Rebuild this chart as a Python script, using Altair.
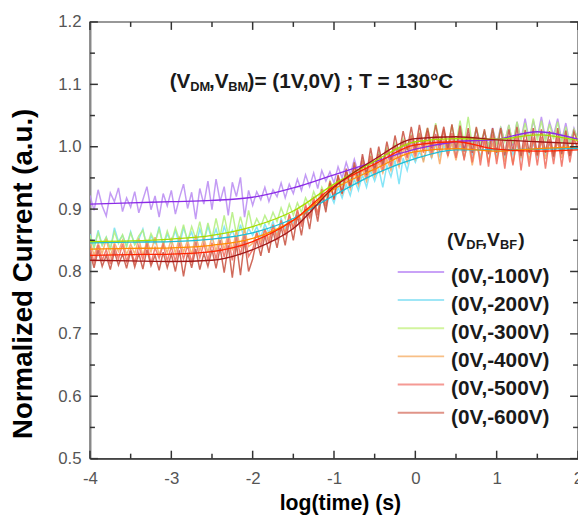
import altair as alt
import pandas as pd

series = ["(0V,-100V)", "(0V,-200V)", "(0V,-300V)", "(0V,-400V)", "(0V,-500V)", "(0V,-600V)"]

times = [-4.00, -3.95, -3.90, -3.85, -3.80, -3.75, -3.70, -3.65, -3.60, -3.55,
         -3.50, -3.45, -3.40, -3.35, -3.30, -3.25, -3.20, -3.15, -3.10, -3.05,
         -3.00, -2.95, -2.90, -2.85, -2.80, -2.75, -2.70, -2.65, -2.60, -2.55,
         -2.50, -2.45, -2.40, -2.35, -2.30, -2.25, -2.20, -2.15, -2.10, -2.05,
         -2.00, -1.95, -1.90, -1.85, -1.80, -1.75, -1.70, -1.65, -1.60, -1.55,
         -1.50, -1.45, -1.40, -1.35, -1.30, -1.25, -1.20, -1.15, -1.10, -1.05,
         -1.00, -0.95, -0.90, -0.85, -0.80, -0.75, -0.70, -0.65, -0.60, -0.55,
         -0.50, -0.45, -0.40, -0.35, -0.30, -0.25, -0.20, -0.15, -0.10, -0.05,
         0.00, 0.05, 0.10, 0.15, 0.20, 0.25, 0.30, 0.35, 0.40, 0.45,
         0.50, 0.55, 0.60, 0.65, 0.70, 0.75, 0.80, 0.85, 0.90, 0.95,
         1.00, 1.05, 1.10, 1.15, 1.20, 1.25, 1.30, 1.35, 1.40, 1.45,
         1.50, 1.55, 1.60, 1.65, 1.70, 1.75, 1.80, 1.85, 1.90, 1.95,
         2.00]

raw_100 = [0.922, 0.898, 0.931, 0.905, 0.889, 0.926, 0.912, 0.934, 0.896, 0.918,
           0.903, 0.928, 0.894, 0.915, 0.936, 0.899, 0.921, 0.887, 0.925, 0.905,
           0.930, 0.892, 0.918, 0.940, 0.901, 0.927, 0.884, 0.933, 0.908, 0.945,
           0.899, 0.948, 0.912, 0.936, 0.890, 0.943, 0.920, 0.951, 0.887, 0.930,
           0.906, 0.928, 0.915, 0.935, 0.912, 0.931, 0.920, 0.942, 0.918, 0.940,
           0.925, 0.948, 0.930, 0.955, 0.936, 0.958, 0.933, 0.962, 0.945, 0.960,
           0.942, 0.968, 0.950, 0.975, 0.955, 0.980, 0.958, 0.983, 0.962, 0.978,
           0.965, 0.990, 0.972, 0.995, 0.970, 1.002, 0.978, 1.005, 0.985, 1.008,
           0.990, 1.015, 0.995, 1.020, 0.992, 1.018, 1.000, 1.025, 0.998, 1.016,
           1.000, 1.022, 0.995, 1.020, 1.003, 1.028, 0.998, 1.024, 1.002, 1.030,
           1.004, 1.032, 1.008, 1.035, 1.002, 1.040, 1.012, 1.045, 1.010, 1.042,
           1.015, 1.048, 1.012, 1.040, 1.018, 1.045, 1.010, 1.038, 1.005, 1.030,
           1.010]
raw_200 = [0.860, 0.838, 0.866, 0.842, 0.855, 0.835, 0.870, 0.848, 0.858, 0.840,
           0.864, 0.843, 0.852, 0.868, 0.839, 0.857, 0.845, 0.872, 0.841, 0.860,
           0.846, 0.866, 0.842, 0.870, 0.851, 0.863, 0.840, 0.868, 0.848, 0.873,
           0.850, 0.868, 0.845, 0.872, 0.853, 0.866, 0.848, 0.875, 0.851, 0.869,
           0.858, 0.872, 0.855, 0.876, 0.862, 0.880, 0.858, 0.885, 0.868, 0.888,
           0.878, 0.895, 0.880, 0.902, 0.888, 0.910, 0.893, 0.918, 0.900, 0.925,
           0.910, 0.935, 0.918, 0.940, 0.922, 0.948, 0.930, 0.955, 0.935, 0.962,
           0.945, 0.965, 0.935, 0.970, 0.952, 0.978, 0.940, 0.982, 0.962, 0.990,
           0.975, 0.992, 0.978, 1.000, 0.982, 1.004, 0.985, 1.002, 0.988, 1.006,
           0.985, 1.004, 0.982, 1.006, 0.988, 1.008, 0.984, 1.005, 0.990, 1.007,
           0.986, 1.006, 0.983, 1.008, 0.987, 1.004, 0.982, 1.007, 0.989, 1.006,
           0.985, 1.008, 0.988, 1.006, 0.984, 1.009, 0.990, 1.006, 0.986, 1.008,
           0.997]
raw_300 = [0.858, 0.838, 0.862, 0.842, 0.855, 0.836, 0.864, 0.845, 0.859, 0.840,
           0.862, 0.843, 0.857, 0.866, 0.840, 0.861, 0.847, 0.868, 0.842, 0.865,
           0.846, 0.870, 0.850, 0.875, 0.848, 0.872, 0.853, 0.880, 0.849, 0.878,
           0.853, 0.885, 0.856, 0.890, 0.858, 0.895, 0.860, 0.888, 0.862, 0.898,
           0.868, 0.885, 0.872, 0.890, 0.876, 0.895, 0.880, 0.902, 0.885, 0.908,
           0.890, 0.910, 0.895, 0.918, 0.905, 0.928, 0.912, 0.935, 0.920, 0.945,
           0.932, 0.952, 0.938, 0.960, 0.945, 0.968, 0.952, 0.978, 0.960, 0.985,
           0.968, 0.990, 0.975, 0.998, 0.980, 1.005, 0.988, 1.012, 0.995, 1.018,
           1.000, 1.022, 1.004, 1.030, 1.002, 1.038, 1.006, 1.025, 1.000, 1.035,
           1.003, 1.042, 1.005, 1.048, 1.002, 1.030, 1.006, 1.025, 1.000, 1.028,
           1.002, 1.030, 1.008, 1.035, 1.005, 1.040, 1.010, 1.038, 1.008, 1.045,
           1.010, 1.042, 1.008, 1.036, 1.012, 1.040, 1.005, 1.032, 1.004, 1.028,
           1.012]
raw_400 = [0.848, 0.826, 0.845, 0.829, 0.852, 0.824, 0.846, 0.832, 0.850, 0.827,
           0.844, 0.828, 0.853, 0.825, 0.849, 0.831, 0.855, 0.826, 0.847, 0.830,
           0.852, 0.829, 0.856, 0.831, 0.850, 0.827, 0.858, 0.833, 0.854, 0.830,
           0.857, 0.832, 0.860, 0.835, 0.862, 0.834, 0.865, 0.838, 0.868, 0.840,
           0.845, 0.862, 0.848, 0.868, 0.852, 0.872, 0.858, 0.880, 0.862, 0.888,
           0.870, 0.895, 0.878, 0.902, 0.888, 0.912, 0.895, 0.925, 0.905, 0.935,
           0.920, 0.945, 0.925, 0.950, 0.932, 0.958, 0.938, 0.965, 0.945, 0.970,
           0.952, 0.975, 0.958, 0.980, 0.962, 0.988, 0.968, 0.995, 0.975, 1.000,
           0.980, 1.005, 0.975, 1.010, 0.982, 1.008, 0.972, 1.012, 0.985, 1.006,
           0.978, 1.010, 0.982, 1.008, 0.970, 1.005, 0.980, 1.010, 0.975, 1.006,
           0.980, 1.008, 0.976, 1.006, 0.972, 1.010, 0.982, 1.008, 0.978, 1.012,
           0.985, 1.010, 0.980, 1.012, 0.986, 1.008, 0.982, 1.014, 0.988, 1.010,
           1.002]
raw_500 = [0.838, 0.815, 0.842, 0.818, 0.835, 0.812, 0.840, 0.820, 0.844, 0.816,
           0.836, 0.814, 0.841, 0.819, 0.845, 0.813, 0.838, 0.821, 0.843, 0.817,
           0.840, 0.816, 0.846, 0.820, 0.842, 0.814, 0.848, 0.822, 0.845, 0.818,
           0.846, 0.820, 0.850, 0.823, 0.853, 0.818, 0.856, 0.826, 0.860, 0.824,
           0.835, 0.862, 0.840, 0.868, 0.845, 0.875, 0.850, 0.882, 0.858, 0.892,
           0.868, 0.900, 0.872, 0.908, 0.885, 0.920, 0.890, 0.932, 0.905, 0.945,
           0.918, 0.952, 0.925, 0.960, 0.935, 0.968, 0.940, 0.978, 0.950, 0.985,
           0.955, 0.988, 0.962, 0.995, 0.968, 1.002, 0.975, 1.010, 0.982, 1.018,
           0.985, 1.022, 0.990, 1.025, 0.988, 1.020, 0.992, 1.028, 0.985, 1.022,
           0.982, 1.025, 0.978, 1.020, 0.975, 1.018, 0.970, 1.015, 0.968, 1.020,
           0.972, 1.012, 0.965, 1.015, 0.970, 1.018, 0.962, 1.012, 0.968, 1.015,
           0.970, 1.016, 0.965, 1.012, 0.972, 1.018, 0.968, 1.015, 0.975, 1.012,
           0.998]
raw_600 = [0.830, 0.806, 0.834, 0.808, 0.826, 0.803, 0.832, 0.810, 0.828, 0.805,
           0.833, 0.807, 0.829, 0.804, 0.835, 0.809, 0.826, 0.802, 0.831, 0.806,
           0.828, 0.800, 0.834, 0.792, 0.830, 0.806, 0.836, 0.803, 0.829, 0.808,
           0.835, 0.805, 0.838, 0.798, 0.842, 0.790, 0.845, 0.794, 0.850, 0.800,
           0.820, 0.852, 0.825, 0.858, 0.830, 0.865, 0.838, 0.872, 0.842, 0.882,
           0.850, 0.890, 0.858, 0.900, 0.868, 0.912, 0.880, 0.925, 0.895, 0.942,
           0.915, 0.955, 0.925, 0.965, 0.935, 0.975, 0.945, 0.988, 0.955, 0.998,
           0.962, 1.000, 0.970, 1.008, 0.978, 1.018, 0.988, 1.025, 0.995, 1.032,
           0.995, 1.035, 1.000, 1.030, 0.998, 1.035, 1.002, 1.032, 0.996, 1.036,
           0.995, 1.034, 0.992, 1.030, 0.990, 1.032, 0.995, 1.028, 0.988, 1.030,
           0.990, 1.030, 0.986, 1.028, 0.992, 1.032, 0.985, 1.027, 0.990, 1.030,
           0.986, 1.028, 0.990, 1.025, 0.984, 1.030, 0.988, 1.026, 0.985, 1.024,
           1.006]

fit_times = [-4.0, -3.5, -3.0, -2.5, -2.0, -1.5, -1.0, -0.5, 0.0, 0.5, 1.0, 1.5, 2.0]
fit_100 = [0.908, 0.910, 0.912, 0.914, 0.919, 0.934, 0.955, 0.976, 0.996, 1.008, 1.012, 1.024, 1.012]
fit_200 = [0.846, 0.847, 0.848, 0.852, 0.862, 0.885, 0.922, 0.956, 0.981, 0.995, 0.995, 0.996, 0.997]
fit_300 = [0.848, 0.849, 0.852, 0.858, 0.872, 0.897, 0.940, 0.977, 1.008, 1.013, 1.012, 1.019, 1.010]
fit_400 = [0.836, 0.837, 0.838, 0.842, 0.853, 0.882, 0.932, 0.964, 0.992, 0.997, 0.993, 0.997, 1.000]
fit_500 = [0.826, 0.827, 0.828, 0.832, 0.848, 0.882, 0.937, 0.972, 1.003, 1.008, 0.996, 0.993, 0.995]
fit_600 = [0.818, 0.817, 0.816, 0.818, 0.835, 0.869, 0.935, 0.980, 1.013, 1.016, 1.011, 1.008, 1.005]

raw_colors = ["#b98af2", "#72e0f6", "#b2ef7c", "#f7a862", "#f06a5c", "#c8503e"]
fit_colors = ["#8b2be6", "#1cbcd6", "#a6dc00", "#ff8a00", "#ff2400", "#a01818"]
legend_colors = ["#c9a2f7", "#9fe6f6", "#d2f49e", "#f8bf86", "#f59a94", "#e09488"]

x_major = [-4, -3, -2, -1, 0, 1, 2]
x_minor = [-3.5, -2.5, -1.5, -0.5, 0.5, 1.5]
y_major = [0.5, 0.6, 0.7, 0.8, 0.9, 1.0, 1.1, 1.2]
y_minor = [0.55, 0.65, 0.75, 0.85, 0.95, 1.05, 1.15]

W, H = 494, 442
FONT = "Liberation Sans"

raws = [raw_100, raw_200, raw_300, raw_400, raw_500, raw_600]
fits = [fit_100, fit_200, fit_300, fit_400, fit_500, fit_600]
raw_df = pd.DataFrame([{"t": t, "v": v, "s": s}
                       for s, vals in zip(series, raws) for t, v in zip(times, vals)])
fit_df = pd.DataFrame([{"t": t, "v": v, "s": s}
                       for s, vals in zip(series, fits) for t, v in zip(fit_times, vals)])

xs = alt.Scale(domain=[-4, 2], nice=False, zero=False)
ys = alt.Scale(domain=[0.5, 1.2], nice=False, zero=False)

x_axis = alt.Axis(values=x_major, labelExpr="'' + datum.value", ticks=False,
                  labelPadding=12, labelFont=FONT, labelFontSize=17, labelColor="#555",
                  domainColor="#333", domainWidth=1.5, grid=False,
                  title="log(time) (s)", titleFont=FONT, titleFontSize=21.5,
                  titleFontWeight="bold", titleColor="#000", titleX=253, titleY=46,
                  titleBaseline="middle", titleAlign="center", labelFlush=False)
y_axis = alt.Axis(values=y_major, format=".1f", ticks=False,
                  labelPadding=9, labelFont=FONT, labelFontSize=17, labelColor="#555",
                  domainColor="#888", domainWidth=2, grid=False,
                  title="Normalized Current (a.u.)", titleFont=FONT, titleFontSize=28,
                  titleFontWeight="bold", titleColor="#000", titleX=-67, titleY=254.5,
                  titleAngle=270, titleBaseline="middle", titleAlign="center", labelFlush=False)

X = alt.X("t:Q", scale=xs, axis=x_axis)
Y = alt.Y("v:Q", scale=ys, axis=y_axis)

raw_layer = alt.Chart(raw_df).mark_line(strokeWidth=1.5, opacity=0.85, clip=True).encode(
    x=X, y=Y,
    color=alt.Color("s:N", scale=alt.Scale(domain=series, range=raw_colors), legend=None),
    order=alt.Order("t:Q"))
fit_layer = alt.Chart(fit_df).mark_line(strokeWidth=1.3, interpolate="monotone", clip=True).encode(
    x=X, y=Y,
    color=alt.Color("s:N", scale=alt.Scale(domain=series, range=fit_colors), legend=None),
    order=alt.Order("t:Q"))

layers = [raw_layer, fit_layer]


def xticks(vals, length, top):
    y0 = 0 if top else H
    y1 = length if top else H - length
    return alt.Chart(pd.DataFrame({"t": vals})).mark_rule(color="#333", strokeWidth=1.5).encode(
        x=X, y=alt.value(y0), y2=alt.value(y1))


def yticks(vals, length, right):
    x0 = W if right else 0
    x1 = W - length if right else length
    return alt.Chart(pd.DataFrame({"v": vals})).mark_rule(color="#333", strokeWidth=1.5).encode(
        y=Y, x=alt.value(x0), x2=alt.value(x1))


for top in (False, True):
    layers.append(xticks(x_major, 8, top))
    layers.append(xticks(x_minor, 5, top))
for right in (False, True):
    layers.append(yticks(y_major, 8, right))
    layers.append(yticks(y_minor, 5, right))

one = pd.DataFrame({"a": [0]})

# annotation pieces: (text, x px, baseline y px, size)
annot = [("(V", 80.7, 67, 21), ("DM", 101.5, 70, 13), (",V", 120.5, 67, 21),
         ("BM", 140, 70, 13), (")= (1V,0V) ; T = 130°C", 159.5, 67, 21)]
legend_title = [("(V", 361.5, 227, 19.5), ("DF", 381, 230, 13), (",V", 396.5, 227, 19.5),
                ("BF", 415, 230, 13), (")", 433.5, 227, 19.5)]
for txt, px, py, sz in annot + legend_title:
    layers.append(alt.Chart(one).mark_text(text=txt, x=px, y=py, align="left",
                                           baseline="alphabetic", font=FONT, fontSize=sz,
                                           fontWeight="bold", color="#1a1a1a"))

for i, (s, c) in enumerate(zip(series, legend_colors)):
    base = 264 + i * 28.5
    layers.append(alt.Chart(one).mark_rule(color=c, strokeWidth=2).encode(
        x=alt.value(311.5), x2=alt.value(358.5), y=alt.value(base - 11)))
    layers.append(alt.Chart(one).mark_text(text=s, x=365.5, y=base, align="left",
                                           baseline="alphabetic", font=FONT, fontSize=21,
                                           fontWeight="bold", color="#1a1a1a"))

chart = alt.layer(*layers).resolve_scale(color="independent").properties(
    width=W, height=H,
    padding={"left": 83, "top": 11, "right": 0, "bottom": 60},
    autosize=alt.AutoSizeParams(type="none"),
).configure_view(stroke="#777", strokeWidth=1.5)

chart.save("out.html", embed_options={"renderer": "svg", "actions": False})
